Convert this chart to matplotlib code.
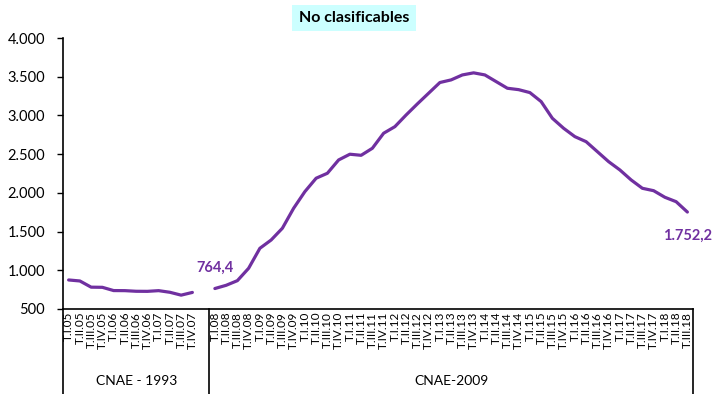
import numpy as np
import matplotlib.pyplot as plt
from matplotlib.ticker import FuncFormatter, FixedLocator

plt.rcParams['font.family'] = ['Lato', 'DejaVu Sans']

# Trimestres de cada grupo
trim_1993 = ['T.I.05', 'T.II.05', 'T.III.05', 'T.IV.05',
             'T.I.06', 'T.II.06', 'T.III.06', 'T.IV.06',
             'T.I.07', 'T.II.07', 'T.III.07', 'T.IV.07']
trim_2009 = [f'T.{q}.{a:02d}' for a in range(8, 19) for q in ['I', 'II', 'III', 'IV']][:43]

# Valores (miles)
valores_1993 = [875, 862, 782, 780, 738, 737, 729, 728, 737, 716, 679, 714]
valores_2009 = [764.4, 806, 866, 1026, 1284, 1391, 1543, 1801, 2016, 2189,
                2253, 2425, 2499, 2485, 2576, 2770, 2855, 3006, 3149, 3287,
                3425, 3459, 3523, 3550, 3523, 3437, 3351, 3333, 3295, 3179,
                2963, 2834, 2726, 2661, 2532, 2403, 2296, 2167, 2059, 2028,
                1943, 1886, 1752.2]

grupos = ['CNAE - 1993', 'CNAE-2009']

# categorias: grupo 1993 + hueco vacio + grupo 2009
etiquetas = trim_1993 + [''] + trim_2009
valores = valores_1993 + [np.nan] + valores_2009
x = np.arange(len(etiquetas))

morado = '#7030A0'

fig = plt.figure(figsize=(7.13, 3.94), dpi=100)
ax = fig.add_axes([63 / 713, 1 - 309 / 394, 630 / 713, 271 / 394])

ax.plot(x, valores, color=morado, lw=2.3, solid_joinstyle='round', solid_capstyle='round')

ax.set_xlim(-0.5, len(etiquetas) - 0.5)
ax.set_ylim(500, 4000)
ax.yaxis.set_major_locator(FixedLocator(np.arange(500, 4001, 500)))
ax.yaxis.set_major_formatter(FuncFormatter(lambda v, p: f'{int(v):,}'.replace(',', '.')))

ax.set_xticks(x)
ax.set_xticklabels(etiquetas, rotation=90, fontsize=8.5, va='top', ha='center')
ax.tick_params(axis='x', length=0, pad=2)
ax.tick_params(axis='y', length=4, width=1, labelsize=10.5, pad=9, direction='out')

for s in ['top', 'right']:
    ax.spines[s].set_visible(False)
for s in ['left', 'bottom']:
    ax.spines[s].set_linewidth(1.2)

# lineas verticales de la zona de categorias
i_hueco = len(trim_1993)
tr = ax.get_xaxis_transform()
for xv in [-0.5, i_hueco + 0.5, len(etiquetas) - 0.5]:
    ax.plot([xv, xv], [0, -0.4], color='black', lw=1.2, transform=tr, clip_on=False)

# etiquetas de grupo
ax.text((-0.5 + i_hueco + 0.5) / 2, -0.265, grupos[0], transform=tr,
        ha='center', va='center', fontsize=10)
ax.text((i_hueco + 0.5 + len(etiquetas) - 0.5) / 2, -0.265, grupos[1], transform=tr,
        ha='center', va='center', fontsize=10)

# etiquetas de datos
i0 = i_hueco + 1
ax.text(i0, valores_2009[0] + 270, '764,4', color=morado, fontweight='bold',
        fontsize=10.5, ha='center', va='center')
ax.text(len(etiquetas) - 1, valores_2009[-1] - 310, '1.752,2', color=morado,
        fontweight='bold', fontsize=10.5, ha='center', va='center')

fig.text(354 / 713, 1 - 18 / 394, 'No clasificables', fontsize=11.5, fontweight='bold',
         ha='center', va='center',
         bbox=dict(facecolor='#CCFFFF', edgecolor='none', boxstyle='square,pad=0.4'))

fig.savefig('out.png', dpi=100)
